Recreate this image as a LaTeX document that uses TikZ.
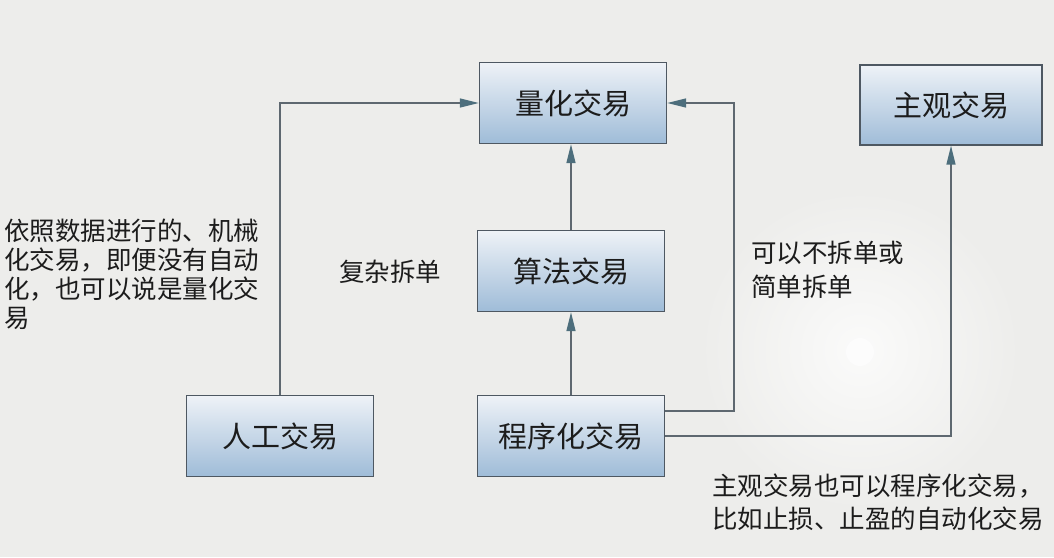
\documentclass[tikz,border=0pt]{standalone}
\usepackage{fontspec}
\setmainfont{Noto Sans CJK SC}
\usetikzlibrary{arrows.meta}
\definecolor{bgc}{HTML}{EDEDEB}
\definecolor{boxtop}{HTML}{EEF2F7}
\definecolor{boxbot}{HTML}{9FBCD8}
\definecolor{boxline}{HTML}{4E5862}
\definecolor{linec}{HTML}{5E6870}
\definecolor{tipc}{HTML}{4D6E7C}
\definecolor{txt}{HTML}{1C1C1C}
\tikzset{
  box/.style={rectangle, draw=boxline, line width=1.3pt, top color=boxtop, bottom color=boxbot,
    minimum width=187pt, minimum height=81pt, inner sep=0pt, text=txt,
    font=\fontsize{29}{33}\selectfont},
  note/.style={inner sep=0pt, text=txt, align=left, font=\fontsize{25.5}{30}\selectfont},
  conn/.style={draw=linec, line width=1.4pt},
  arr/.style={conn, -{Triangle[length=19pt,width=9pt,color=tipc]}}
}
\begin{document}
\begin{tikzpicture}[x=1pt,y=-1pt]
\useasboundingbox (0,0) rectangle (1054,557);
\fill[bgc] (0,0) rectangle (1054,557);
\shade[inner color=white!75!bgc, outer color=bgc] (860,350) circle (160);
\fill[white, opacity=0.5] (860,352) circle (14);

\node[box] (lh) at (573,103) {量化交易};
\node[box, minimum width=182pt, minimum height=80pt] (zg) at (951,105) {主观交易};
\node[box] (sf) at (571,271) {算法交易};
\node[box] (cx) at (571,436) {程序化交易};
\node[box] (rg) at (280,436) {人工交易};

\coordinate (rc) at (734,411);

\draw[arr] (rg.north) |- (lh.west);
\draw[arr] (sf.north) -- (sf.north |- lh.south);
\draw[arr] (cx.north) -- (sf.south);
\draw[arr] ([yshift=25pt]cx.east) -- (rc) |- (lh.east);
\draw[arr] (cx.east) -| (zg.south);

\node[note, anchor=west, font=\fontsize{25.5}{29}\selectfont] (n1) at (4,274) {依照数据进行的、机械\\化交易，即便没有自动\\化，也可以说是量化交\\易};
\node[note] (n2) at (390,272) {复杂拆单};
\node[note, anchor=west, font=\fontsize{25.5}{34}\selectfont] (n3) at (751,270) {可以不拆单或\\简单拆单};
\node[note, anchor=west, font=\fontsize{25.5}{33}\selectfont] (n4) at (712,502) {主观交易也可以程序化交易，\\比如止损、止盈的自动化交易};
\end{tikzpicture}
\end{document}
